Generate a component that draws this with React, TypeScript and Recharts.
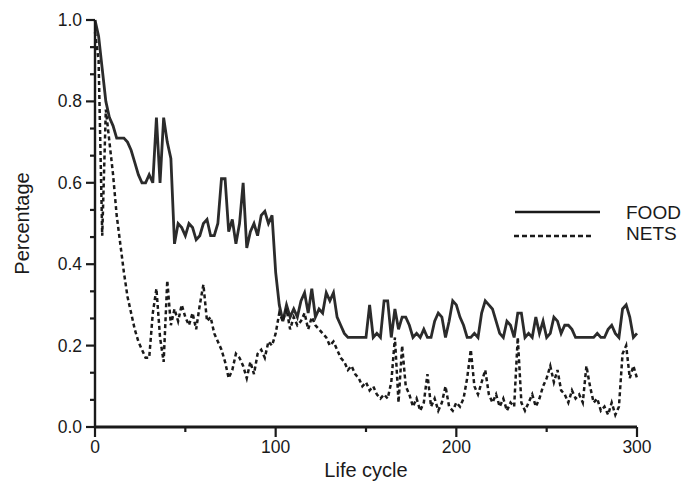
import React from "react";
import { LineChart, Line, XAxis, YAxis } from "recharts";

// Sampled every 2 life cycles, 0..300
const lifeCycle: number[] = Array.from({ length: 151 }, (_, i) => i * 2);

const food: number[] = [
  1.0, 0.96, 0.88, 0.8, 0.76, 0.74, 0.71, 0.71, 0.71, 0.7,
  0.68, 0.65, 0.62, 0.6, 0.6, 0.62, 0.6, 0.76, 0.6, 0.76,
  0.7, 0.66, 0.45, 0.5, 0.49, 0.47, 0.5, 0.49, 0.46, 0.47,
  0.5, 0.51, 0.47, 0.47, 0.5, 0.61, 0.61, 0.48, 0.51, 0.45,
  0.5, 0.6, 0.44, 0.48, 0.5, 0.47, 0.52, 0.53, 0.5, 0.52,
  0.38, 0.3, 0.26, 0.3, 0.27, 0.29, 0.27, 0.31, 0.33, 0.28,
  0.34, 0.27, 0.29, 0.28, 0.33, 0.31, 0.33, 0.27, 0.25, 0.23,
  0.22, 0.22, 0.22, 0.22, 0.22, 0.22, 0.3, 0.22, 0.23, 0.22,
  0.31, 0.31, 0.22, 0.29, 0.24, 0.27, 0.27, 0.25, 0.22, 0.23,
  0.22, 0.24, 0.22, 0.22, 0.26, 0.28, 0.27, 0.22, 0.26, 0.31,
  0.3, 0.27, 0.25, 0.22, 0.22, 0.23, 0.22, 0.28, 0.31, 0.3,
  0.29, 0.26, 0.23, 0.22, 0.26, 0.25, 0.22, 0.28, 0.28, 0.22,
  0.23, 0.22, 0.27, 0.23, 0.26, 0.22, 0.23, 0.27, 0.26, 0.23,
  0.25, 0.25, 0.24, 0.22, 0.22, 0.22, 0.22, 0.22, 0.22, 0.23,
  0.22, 0.22, 0.24, 0.25, 0.23, 0.22, 0.29, 0.3, 0.27, 0.22,
  0.23,
];

const nets: number[] = [
  0.97, 0.9, 0.47, 0.78, 0.7, 0.62, 0.52, 0.45, 0.38, 0.32,
  0.28, 0.24, 0.21, 0.19, 0.17, 0.17, 0.28, 0.34, 0.22, 0.16,
  0.36, 0.25, 0.29, 0.26, 0.3, 0.27, 0.25, 0.28, 0.24, 0.3,
  0.35, 0.26, 0.27, 0.23, 0.21, 0.19, 0.16, 0.12, 0.14, 0.18,
  0.17, 0.15, 0.12, 0.16, 0.13, 0.18, 0.19, 0.17, 0.21, 0.2,
  0.23, 0.28, 0.26, 0.29, 0.24, 0.27, 0.25, 0.26, 0.28, 0.24,
  0.27, 0.25, 0.24, 0.23, 0.22, 0.2, 0.21, 0.19, 0.17, 0.16,
  0.14, 0.15, 0.13, 0.12, 0.1, 0.11, 0.09, 0.1, 0.08, 0.07,
  0.08, 0.07, 0.11, 0.22, 0.06, 0.2, 0.1, 0.08, 0.05, 0.07,
  0.04, 0.06, 0.13, 0.05, 0.07, 0.04, 0.06, 0.1, 0.05, 0.04,
  0.06, 0.05, 0.07, 0.12, 0.19, 0.1, 0.08, 0.11, 0.14, 0.08,
  0.06, 0.08, 0.05, 0.07, 0.04, 0.06, 0.05, 0.22, 0.06, 0.04,
  0.06, 0.08, 0.05, 0.07, 0.1, 0.12, 0.15, 0.11, 0.14, 0.09,
  0.08, 0.06, 0.09, 0.07, 0.08, 0.06, 0.15, 0.1, 0.06, 0.07,
  0.04, 0.05, 0.03, 0.06, 0.03, 0.05, 0.18, 0.2, 0.12, 0.15,
  0.12,
];

const xMajorTicks = [0, 100, 200, 300];
const xMinorTicks = [50, 150, 250];
const yMajorTicks = [0, 0.2, 0.4, 0.6, 0.8, 1.0];

const seriesNames = { food: "FOOD", nets: "NETS" };

const data = lifeCycle.map((x, i) => ({ x, food: food[i], nets: nets[i] }));

// each 0.2 step on the y axis is split into three by minor ticks
const yTicks: number[] = [];
yMajorTicks.forEach((v, i) => {
  yTicks.push(v);
  if (i < yMajorTicks.length - 1) {
    const next = yMajorTicks[i + 1];
    yTicks.push(v + (next - v) / 3, v + (2 * (next - v)) / 3);
  }
});
const xTicks = [...xMajorTicks, ...xMinorTicks].sort((a, b) => a - b);

const FONT = "'Liberation Sans', Arial, Helvetica, sans-serif";
const INK = "#1a1a1a";

const isMajorY = (v: number) => yMajorTicks.some((m) => Math.abs(m - v) < 1e-6);

const YTick = (props: any) => {
  const { x, y, payload } = props;
  const major = isMajorY(payload.value);
  return (
    <g>
      <line x1={x - (major ? 9 : 5)} x2={x} y1={y} y2={y} stroke={INK} strokeWidth={2.2} />
      {major && (
        <text x={x - 13} y={y} dy={6} textAnchor="end" fontSize={17.5} fontFamily={FONT} fill={INK}>
          {payload.value.toFixed(1)}
        </text>
      )}
    </g>
  );
};

const XTick = (props: any) => {
  const { x, y, payload } = props;
  const major = xMajorTicks.includes(payload.value);
  return (
    <g>
      <line x1={x} x2={x} y1={y} y2={y + (major ? 10 : 5)} stroke={INK} strokeWidth={2.2} />
      {major && (
        <text x={x} y={y + 26} textAnchor="middle" fontSize={17.5} fontFamily={FONT} fill={INK}>
          {payload.value}
        </text>
      )}
    </g>
  );
};

// Key for the two series, placed over the right side of the plot
const LegendBox = () => (
  <svg
    width={172}
    height={50}
    style={{ position: "absolute", left: 510, top: 200, display: "block" }}
  >
    <line x1={5} x2={90} y1={12} y2={12} stroke={INK} strokeWidth={2.6} />
    <line x1={4} x2={82} y1={36} y2={36} stroke={INK} strokeWidth={2.6} strokeDasharray="5 3" />
    <text x={116} y={19} fontSize={19} fontFamily={FONT} fill={INK}>
      {seriesNames.food}
    </text>
    <text x={116} y={40} fontSize={19} fontFamily={FONT} fill={INK}>
      {seriesNames.nets}
    </text>
  </svg>
);

export default function App() {
  return (
    <div style={{ position: "absolute", left: 0, top: 0, width: 682, height: 481, background: "#fff" }}>
      <LineChart
        width={682}
        height={481}
        data={data}
        margin={{ top: 20, right: 45, bottom: 24, left: 0 }}
      >
        <XAxis
          dataKey="x"
          type="number"
          domain={[0, 300]}
          ticks={xTicks}
          interval={0}
          tick={<XTick />}
          tickLine={false}
          tickSize={0}
          tickMargin={0}
          height={30}
          axisLine={{ stroke: INK, strokeWidth: 2.8 }}
          label={{
            value: "Life cycle",
            position: "insideBottom",
            offset: -20,
            fontSize: 20,
            fontFamily: FONT,
            fill: INK,
          }}
        />
        <YAxis
          type="number"
          domain={[0, 1]}
          ticks={yTicks}
          interval={0}
          tick={<YTick />}
          tickLine={false}
          tickSize={0}
          tickMargin={0}
          width={95}
          axisLine={{ stroke: INK, strokeWidth: 2.4 }}
          label={{
            value: "Percentage",
            angle: -90,
            position: "insideLeft",
            offset: 22,
            fontSize: 20,
            fontFamily: FONT,
            fill: INK,
            style: { textAnchor: "middle" },
          }}
        />
        <Line
          dataKey="food"
          name={seriesNames.food}
          type="linear"
          stroke="#2b2b2b"
          strokeWidth={2.8}
          dot={false}
          isAnimationActive={false}
        />
        <Line
          dataKey="nets"
          name={seriesNames.nets}
          type="linear"
          stroke={INK}
          strokeWidth={2.5}
          strokeDasharray="4 3"
          dot={false}
          isAnimationActive={false}
        />
      </LineChart>
      <LegendBox />
    </div>
  );
}
